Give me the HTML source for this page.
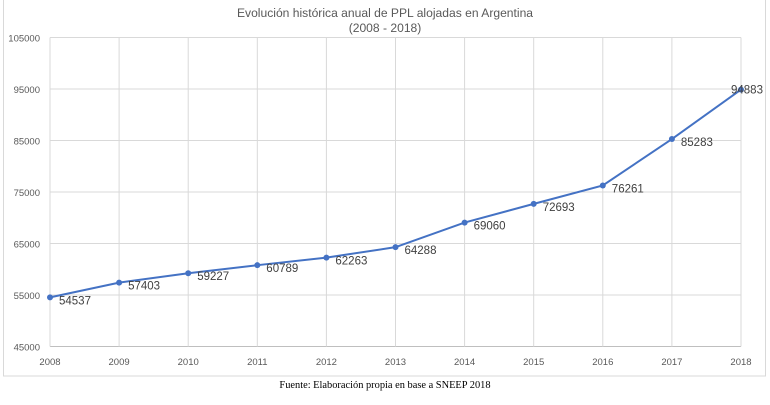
<!DOCTYPE html>
<html><head><meta charset="utf-8"><style>
body{margin:0;background:#fff;width:770px;height:400px;overflow:hidden}
text{font-family:"Liberation Sans",sans-serif}
</style></head><body>
<svg id="chart" width="770" height="400" xmlns="http://www.w3.org/2000/svg">
<rect x="3.5" y="-1" width="762" height="377" fill="#fff" stroke="#d9d9d9"/>
<text x="385" y="17" text-anchor="middle" font-size="12.1" fill="#595959">Evolución histórica anual de PPL alojadas en Argentina</text>
<text x="385" y="32" text-anchor="middle" font-size="12.1" fill="#595959">(2008 - 2018)</text>
<g id="grid"></g><g id="series"></g>
<text x="385" y="388" text-anchor="middle" font-size="10.4" style="font-family:'Liberation Serif',serif" fill="#000">Fuente: Elaboración propia en base a SNEEP 2018</text>
</svg>
<script>
const years=[2008,2009,2010,2011,2012,2013,2014,2015,2016,2017,2018];
const values=[54537,57403,59227,60789,62263,64288,69060,72693,76261,85283,94883];
const yTicks=[45000,55000,65000,75000,85000,95000,105000];
const NS="http://www.w3.org/2000/svg";
const x=i=>50+i*69.1;
const y=v=>346.5-(v-45000)/60000*309;
function mk(t,a,p){const e=document.createElementNS(NS,t);for(const k in a)e.setAttribute(k,a[k]);p.appendChild(e);return e;}
const g=document.getElementById('grid'),s=document.getElementById('series');
yTicks.forEach(v=>{
 const l=mk('line',{x1:50,x2:741,y1:y(v),y2:y(v),stroke:v===45000?'#bfbfbf':'#d9d9d9','stroke-width':1},g);
 
 
 const t=mk('text',{x:40,y:y(v)+4,'text-anchor':'end','font-size':9.5,fill:'#595959'},g);t.textContent=v;
 
 
});
years.forEach((yr,i)=>{
 const l=mk('line',{x1:x(i),x2:x(i),y1:y(105000),y2:y(45000),stroke:'#d9d9d9','stroke-width':1},g);
 
 
 const t=mk('text',{x:x(i),y:365,'text-anchor':'middle','font-size':9.5,fill:'#595959'},g);t.textContent=yr;
 
 
});
const pl=mk('polyline',{points:values.map((v,i)=>x(i)+','+y(v)).join(' '),fill:'none',stroke:'#4472c4','stroke-width':2},s);


values.forEach((v,i)=>{
 const c=mk('circle',{cx:x(i),cy:y(v),r:3,fill:'#4472c4'},s);
 
 
 const last=i===values.length-1;
 const t=mk('text',{x:last?x(i)-10:x(i)+9,y:last?y(v)+4:y(v)+7,'font-size':11.5,fill:'#404040'},s);t.textContent=v;
 
 
});
</script>
</body></html>
